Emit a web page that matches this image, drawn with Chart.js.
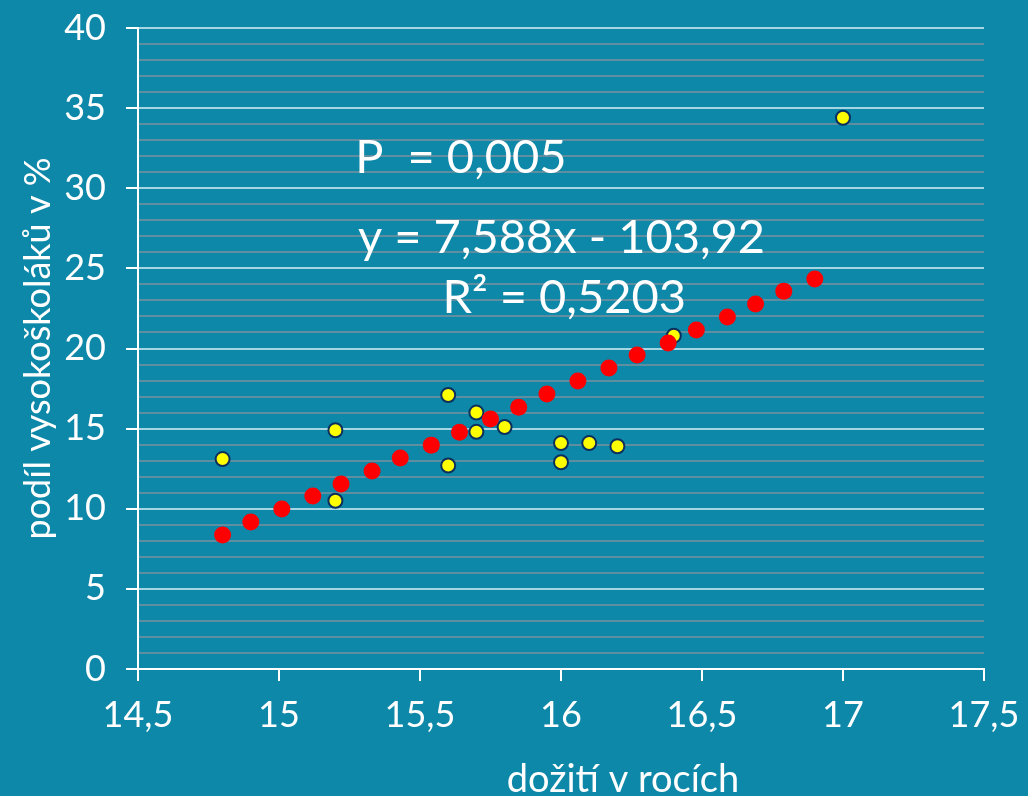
<!DOCTYPE html>
<html>
<head>
<meta charset="utf-8">
<script src="https://cdn.jsdelivr.net/npm/chart.js@4.4.1/dist/chart.umd.min.js"></script>
<style>
  html, body { margin: 0; padding: 0; background: #0E88A8; }
  #wrap { width: 1028px; height: 796px; }
</style>
</head>
<body>
<div id="wrap"><canvas id="chart"></canvas></div>
<script>
// observed districts (yellow)
const obsX = [14.8, 15.2, 15.2, 15.6, 15.6, 15.7, 15.7, 15.8, 16.0, 16.0, 16.1, 16.2, 16.4, 17.0];
const obsY = [13.1, 14.9, 10.5, 17.1, 12.7, 16.0, 14.8, 15.1, 14.1, 12.9, 14.1, 13.9, 20.8, 34.4];

// regression points (red)
const fitX = [14.80, 14.90, 15.01, 15.12, 15.22, 15.33, 15.43, 15.54, 15.64, 15.75, 15.85,
              15.95, 16.06, 16.17, 16.27, 16.38, 16.48, 16.59, 16.69, 16.79, 16.90];
const fitY = [8.36, 9.17, 9.98, 10.79, 11.54, 12.35, 13.16, 13.97, 14.78, 15.60, 16.34,
              17.16, 17.97, 18.78, 19.59, 20.34, 21.15, 21.96, 22.77, 23.58, 24.33];

const xTitle = "dožití v rocích";
const yTitle = "podíl vysokoškoláků v %";
const notes = ["P  = 0,005", "y = 7,588x - 103,92", "R² = 0,5203"];

const FONT = "Lato, 'DejaVu Sans', sans-serif";
const majorGrid = "#A6D6E4";
const minorGrid = "#5E8EA0";

function toPoints(xs, ys) {
  return xs.map((x, i) => ({ x: x, y: ys[i] }));
}

// texts that Excel put inside the plot, plus the off-centre x title
const textPlugin = {
  id: "texts",
  afterDraw(chart) {
    const ctx = chart.ctx;
    const xs = chart.scales.x, ys = chart.scales.y;
    ctx.save();
    ctx.fillStyle = "#fff";
    ctx.textBaseline = "alphabetic";
    ctx.textAlign = "left";
    ctx.font = "47px " + FONT;
    ctx.fillText(notes[0], xs.getPixelForValue(15.27), ys.getPixelForValue(30.95));
    ctx.fillText(notes[1], xs.getPixelForValue(15.28), ys.getPixelForValue(25.95));
    ctx.fillText(notes[2], xs.getPixelForValue(15.58), ys.getPixelForValue(22.2));
    ctx.font = "38px " + FONT;
    ctx.textAlign = "center";
    ctx.fillText(xTitle, 623, 792);
    ctx.restore();
  }
};

const chart = new Chart(document.getElementById("chart"), {
  type: "scatter",
  data: {
    datasets: [
      {
        label: "fit",
        data: toPoints(fitX, fitY),
        backgroundColor: "#FF0000",
        borderWidth: 0,
        pointRadius: 8.5,
        order: 0
      },
      {
        label: "data",
        data: toPoints(obsX, obsY),
        backgroundColor: "#FFFF00",
        borderColor: "#0D2F5E",
        borderWidth: 2,
        pointRadius: 7,
        order: 1
      }
    ]
  },
  plugins: [textPlugin],
  options: {
    responsive: true,
    maintainAspectRatio: false,
    animation: false,
    layout: { padding: { left: 0, right: 44, top: 28, bottom: 0 } },
    plugins: {
      legend: { display: false },
      tooltip: { enabled: false }
    },
    scales: {
      x: {
        type: "linear",
        min: 14.5,
        max: 17.5,
        afterFit(s) { s.height = 127; s.paddingLeft = 0; s.paddingRight = 0; },
        ticks: {
          stepSize: 0.5,
          color: "#fff",
          font: { family: FONT, size: 36 },
          padding: 13,
          maxRotation: 0,
          callback: (v) => String(v).replace(".", ",")
        },
        grid: { drawOnChartArea: false, drawTicks: true, tickLength: 12, color: "#fff", lineWidth: 2 },
        border: { color: "#fff", width: 2 }
      },
      y: {
        min: 0,
        max: 40,
        afterFit(s) { s.width = 138; s.paddingTop = 0; s.paddingBottom = 0; },
        ticks: {
          stepSize: 1,
          autoSkip: false,
          color: "#fff",
          font: { family: FONT, size: 36 },
          padding: 20,
          callback: (v) => (v % 5 === 0 ? v : "")
        },
        grid: {
          lineWidth: 2,
          tickLength: 12,
          color: (c) => (c.tick && c.tick.value % 5 === 0 ? majorGrid : minorGrid),
          tickColor: (c) => (c.tick && c.tick.value % 5 === 0 ? "#fff" : "rgba(0,0,0,0)")
        },
        border: { color: "#fff", width: 2 },
        title: {
          display: true,
          text: yTitle,
          color: "#fff",
          font: { family: FONT, size: 36 },
          padding: { top: 17, bottom: 0 }
        }
      }
    }
  }
});
</script>
</body>
</html>
